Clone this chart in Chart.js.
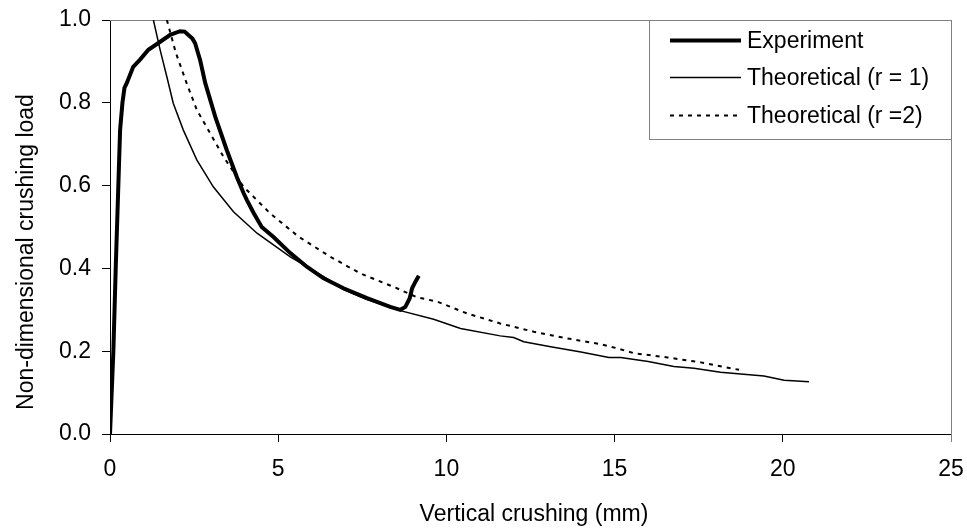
<!DOCTYPE html>
<html>
<head>
<meta charset="utf-8">
<title>Crushing load</title>
<script src="https://cdn.jsdelivr.net/npm/chart.js@4.4.0/dist/chart.umd.min.js"></script>
<style>
    body { margin: 0; background: #ffffff; }
    canvas { display: block; }
</style>
</head>
<body>
<canvas id="crushChart" width="967" height="529"></canvas>
<script>
// Experiment curve
const expX = [0, 0.10, 0.17, 0.25, 0.30, 0.37, 0.43, 0.50, 0.69, 0.90, 1.14, 1.45, 1.79, 2.08, 2.22, 2.33, 2.45, 2.53, 2.68, 2.83,
    3.13, 3.47, 3.77, 3.97, 4.07, 4.27, 4.51, 4.86, 5.36, 5.85, 6.35, 6.94, 7.64, 8.33, 8.63, 8.78, 8.91, 8.98, 9.08, 9.18];
const expY = [0, 0.20, 0.40, 0.606, 0.734, 0.800, 0.836, 0.848, 0.887, 0.905, 0.928, 0.945, 0.964, 0.973, 0.972, 0.964, 0.955, 0.944, 0.903, 0.848,
    0.766, 0.686, 0.621, 0.582, 0.565, 0.534, 0.500, 0.476, 0.437, 0.404, 0.376, 0.352, 0.328, 0.307, 0.300, 0.307, 0.328, 0.352, 0.368, 0.382];

// Theoretical (r = 1)
const r1X = [1.29, 1.49, 1.69, 1.88, 2.18, 2.58, 3.07, 3.67, 4.37, 5.36, 6.35, 6.94, 7.60, 8.63, 9.62, 10.42, 11.60, 12.00, 12.30,
    13.10, 14.00, 14.83, 15.18, 16.00, 16.76, 17.36, 18.15, 19.44, 20.04, 20.78];
const r1Y = [1.0, 0.928, 0.863, 0.799, 0.734, 0.662, 0.597, 0.537, 0.485, 0.428, 0.380, 0.349, 0.326, 0.298, 0.277, 0.255, 0.237, 0.233, 0.223,
    0.211, 0.198, 0.185, 0.185, 0.175, 0.163, 0.159, 0.149, 0.140, 0.130, 0.126];

// Theoretical (r =2)
const r2X = [1.69, 1.96, 2.28, 2.58, 2.98, 3.37, 3.97, 4.76, 5.60, 6.55, 7.44, 8.53, 9.13, 9.72, 10.62, 11.60, 12.60, 13.59,
    14.58, 15.08, 15.58, 16.57, 17.56, 18.70];
const r2Y = [1.0, 0.920, 0.847, 0.783, 0.726, 0.670, 0.597, 0.533, 0.477, 0.428, 0.388, 0.352, 0.330, 0.320, 0.291, 0.267, 0.247, 0.231,
    0.217, 0.207, 0.195, 0.185, 0.173, 0.155];

const seriesLabels = ['Experiment', 'Theoretical (r = 1)', 'Theoretical (r =2)'];
const xTitle = 'Vertical crushing (mm)';
const yTitle = 'Non-dimensional crushing load';

const FONT = '"Liberation Sans", Arial, sans-serif';

function toPoints(xs, ys) {
    return xs.map((x, i) => ({ x: x, y: ys[i] }));
}

// Gray frame on top/right, axis titles and the boxed legend inside the plot
const decorPlugin = {
    id: 'decor',
    beforeDatasetsDraw(chart) {
        const { ctx, chartArea: a } = chart;
        ctx.save();
        ctx.strokeStyle = '#808080';
        ctx.lineWidth = 1;
        ctx.beginPath();
        ctx.moveTo(a.left, a.top + 0.5);
        ctx.lineTo(a.right + 0.5, a.top + 0.5);
        ctx.lineTo(a.right + 0.5, a.bottom + 8);
        ctx.stroke();
        ctx.restore();
    },
    afterDraw(chart) {
        const { ctx, chartArea: a } = chart;
        ctx.save();
        ctx.fillStyle = '#000000';
        ctx.font = '23px ' + FONT;
        ctx.textAlign = 'center';
        ctx.textBaseline = 'alphabetic';
        ctx.fillText(xTitle, 534, 521);
        ctx.translate(33, 252);
        ctx.rotate(-Math.PI / 2);
        ctx.fillText(yTitle, 0, 0);
        ctx.restore();

        // legend box
        const box = { left: 649.5, top: a.top + 0.5, right: a.right + 0.5, bottom: 139.5 };
        ctx.save();
        ctx.fillStyle = '#ffffff';
        ctx.fillRect(box.left, box.top, box.right - box.left, box.bottom - box.top);
        ctx.strokeStyle = '#808080';
        ctx.lineWidth = 1;
        ctx.strokeRect(box.left, box.top, box.right - box.left, box.bottom - box.top);
        const rows = [40.5, 77.5, 115.5];
        chart.data.datasets.forEach((ds, i) => {
            ctx.beginPath();
            ctx.strokeStyle = ds.borderColor;
            ctx.lineWidth = ds.borderWidth;
            ctx.setLineDash(ds.borderDash || []);
            ctx.moveTo(670, rows[i]);
            ctx.lineTo(741, rows[i]);
            ctx.stroke();
            ctx.setLineDash([]);
            ctx.fillStyle = '#000000';
            ctx.font = '23px ' + FONT;
            ctx.textAlign = 'left';
            ctx.textBaseline = 'middle';
            ctx.fillText(ds.label, 747, rows[i] + 1);
        });
        ctx.restore();
    }
};

const ctx = document.getElementById('crushChart').getContext('2d');
new Chart(ctx, {
    type: 'line',
    data: {
        datasets: [{
            label: seriesLabels[0],
            data: toPoints(expX, expY),
            borderColor: '#000000',
            borderWidth: 4,
            pointRadius: 0,
            tension: 0
        }, {
            label: seriesLabels[1],
            data: toPoints(r1X, r1Y),
            borderColor: '#000000',
            borderWidth: 1.5,
            pointRadius: 0,
            tension: 0
        }, {
            label: seriesLabels[2],
            data: toPoints(r2X, r2Y),
            borderColor: '#000000',
            borderWidth: 2,
            borderDash: [4, 5],
            pointRadius: 0,
            tension: 0
        }]
    },
    options: {
        responsive: false,
        animation: false,
        layout: { padding: { top: 20, right: 16, left: 0, bottom: 0 } },
        plugins: {
            legend: { display: false },
            tooltip: { enabled: false }
        },
        scales: {
            x: {
                type: 'linear',
                min: 0,
                max: 25,
                afterFit: s => { s.height = 95; s.paddingLeft = 0; s.paddingRight = 0; },
                border: { color: '#000000', width: 1 },
                grid: { drawOnChartArea: false, drawTicks: true, tickLength: 8, color: '#000000' },
                ticks: {
                    stepSize: 5,
                    color: '#000000',
                    padding: 14,
                    font: { family: FONT, size: 23 }
                }
            },
            y: {
                min: 0,
                max: 1,
                afterFit: s => { s.width = 110; s.paddingTop = 0; s.paddingBottom = 0; },
                border: { color: '#000000', width: 1 },
                grid: { drawOnChartArea: false, drawTicks: true, tickLength: 8, color: '#000000' },
                ticks: {
                    stepSize: 0.2,
                    color: '#000000',
                    padding: 11,
                    font: { family: FONT, size: 23 },
                    callback: v => v.toFixed(1)
                }
            }
        }
    },
    plugins: [decorPlugin]
});
</script>
</body>
</html>
